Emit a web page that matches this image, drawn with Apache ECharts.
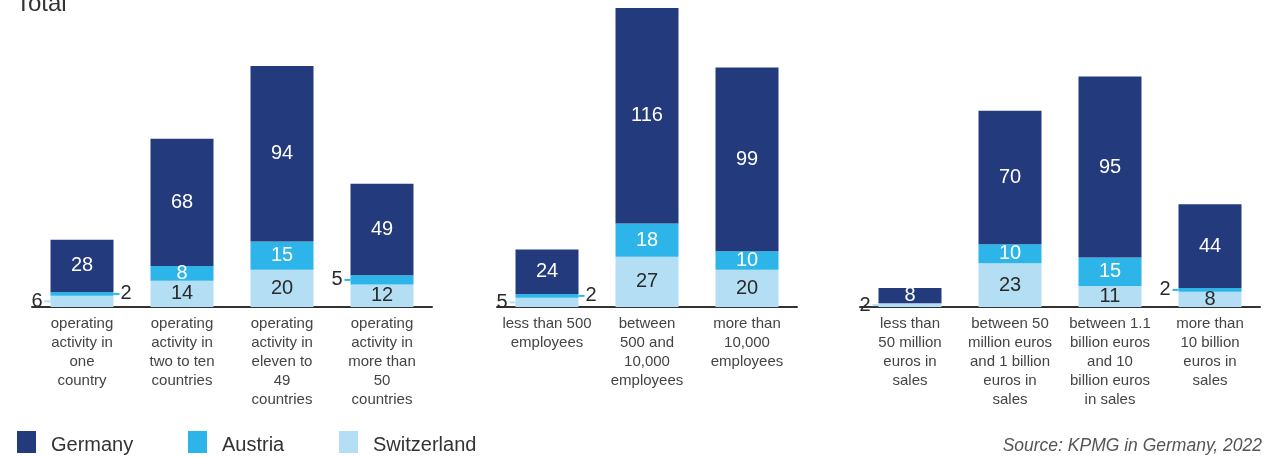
<!DOCTYPE html>
<html>
<head>
<meta charset="utf-8">
<script src="https://cdn.jsdelivr.net/npm/echarts@6/dist/echarts.min.js"></script>
<style>
  html, body { margin: 0; padding: 0; background: #fff; }
  #chart { width: 1269px; height: 457px; }
</style>
</head>
<body>
<div id="chart"></div>
<script>
// Companies by scope of operations
const countryCategories = [
  'operating\nactivity in\none\ncountry',
  'operating\nactivity in\ntwo to ten\ncountries',
  'operating\nactivity in\neleven to\n49\ncountries',
  'operating\nactivity in\nmore than\n50\ncountries'
];
const countryGermany = [28, 68, 94, 49];
const countryAustria = [2, 8, 15, 5];
const countrySwitzerland = [6, 14, 20, 12];

// Companies by headcount
const employeeCategories = [
  'less than 500\nemployees',
  'between\n500 and\n10,000\nemployees',
  'more than\n10,000\nemployees'
];
const employeeGermany = [24, 116, 99];
const employeeAustria = [2, 18, 10];
const employeeSwitzerland = [5, 27, 20];

// Companies by annual sales
const salesCategories = [
  'less than\n50 million\neuros in\nsales',
  'between 50\nmillion euros\nand 1 billion\neuros in\nsales',
  'between 1.1\nbillion euros\nand 10\nbillion euros\nin sales',
  'more than\n10 billion\neuros in\nsales'
];
const salesGermany = [8, 70, 95, 44];
const salesAustria = [null, 10, 15, 2];
const salesSwitzerland = [2, 23, 11, 8];

const seriesNames = ['Germany', 'Austria', 'Switzerland'];

const FONT = '"Liberation Sans", Arial, sans-serif';
const COLORS = { Germany: '#233a7c', Austria: '#2db4e8', Switzerland: '#b3def4' };
const TEXT_ON = { Germany: '#ffffff', Austria: '#ffffff', Switzerland: '#2a2a2a' };
const VALUE_SIZE = 20;

// Segments too thin for an inside label get an outside label with a short leader
const SMALL = 6;

const panels = [
  { cats: countryCategories, de: countryGermany, at: countryAustria, ch: countrySwitzerland,
    left: 32, width: 400, max: 160 },
  { cats: employeeCategories, de: employeeGermany, at: employeeAustria, ch: employeeSwitzerland,
    left: 497, width: 300, max: 161 },
  { cats: salesCategories, de: salesGermany, at: salesAustria, ch: salesSwitzerland,
    left: 860, width: 400, max: 157 }
];

function outsideLabel(name, side) {
  const rich = {
    v: { fontFamily: FONT, fontSize: VALUE_SIZE, color: '#2a2a2a',
         padding: side === 'left' ? [0, 2, 0, 0] : [0, 0, 0, 1] },
    ln: { width: 6, height: 2, backgroundColor: COLORS[name], verticalAlign: 'middle' }
  };
  return {
    show: true,
    position: side,
    distance: 0,
    formatter: p => side === 'left' ? '{v|' + p.value + '}{ln|}' : '{ln|}{v|' + p.value + '}',
    rich: rich
  };
}

function buildData(name, values, chValues) {
  return values.map((v, i) => {
    if (v == null || v > SMALL) return v;
    let side = 'left';
    if (name === 'Austria' && chValues[i] != null && chValues[i] <= SMALL) side = 'right';
    return { value: v, label: outsideLabel(name, side) };
  });
}

const grid = [], xAxis = [], yAxis = [], series = [];
panels.forEach((p, k) => {
  grid.push({ left: p.left, width: p.width, top: 8, bottom: 150 });
  xAxis.push({
    type: 'category', gridIndex: k, data: p.cats,
    axisLine: { lineStyle: { color: '#333333', width: 2 } },
    axisTick: { show: false },
    axisLabel: { interval: 0, margin: 7, fontFamily: FONT, fontSize: 15, lineHeight: 19,
                 color: '#444444', verticalAlign: 'top' }
  });
  yAxis.push({ type: 'value', gridIndex: k, min: 0, max: p.max, show: false,
               splitLine: { show: false } });
  const byName = { Switzerland: p.ch, Austria: p.at, Germany: p.de };
  ['Switzerland', 'Austria', 'Germany'].forEach(name => {
    series.push({
      name: name, type: 'bar', stack: 'panel' + k,
      xAxisIndex: k, yAxisIndex: k, barWidth: 63,
      itemStyle: { color: COLORS[name] },
      label: { show: true, position: 'inside', fontFamily: FONT, fontSize: VALUE_SIZE,
               color: TEXT_ON[name] },
      emphasis: { disabled: true },
      data: buildData(name, byName[name], p.ch)
    });
  });
});

// Legend entries: a tall empty spacer lets the name sit a little below the swatch centre
const legendBase = {
  top: 431, padding: 0, icon: 'rect', itemWidth: 19, itemHeight: 22, selectedMode: false,
  formatter: name => '{s|}{t|' + name + '}',
  textStyle: {
    fontFamily: FONT, fontSize: 20, color: '#333333', padding: [0, 0, 0, 10],
    rich: {
      s: { height: 27, width: 0 },
      t: { fontFamily: FONT, fontSize: 20, color: '#333333', lineHeight: 22, verticalAlign: 'bottom' }
    }
  }
};

const option = {
  animation: false,
  title: [
    { text: 'Total', left: 16, top: -8, padding: 0,
      textStyle: { fontFamily: FONT, fontSize: 24, fontWeight: 'normal', color: '#333333' } },
    { text: 'Source: KPMG in Germany, 2022', right: 7, top: 437, padding: 0,
      textStyle: { fontFamily: FONT, fontSize: 17.5, fontStyle: 'italic', fontWeight: 'normal',
                   color: '#555555' } }
  ],
  legend: [
    Object.assign({}, legendBase, { data: [seriesNames[0]], left: 17 }),
    Object.assign({}, legendBase, { data: [seriesNames[1]], left: 188 }),
    Object.assign({}, legendBase, { data: [seriesNames[2]], left: 339 })
  ],
  grid: grid,
  xAxis: xAxis,
  yAxis: yAxis,
  series: series
};

const chart = echarts.init(document.getElementById('chart'), null, { renderer: 'canvas' });
chart.setOption(option);
</script>
</body>
</html>
